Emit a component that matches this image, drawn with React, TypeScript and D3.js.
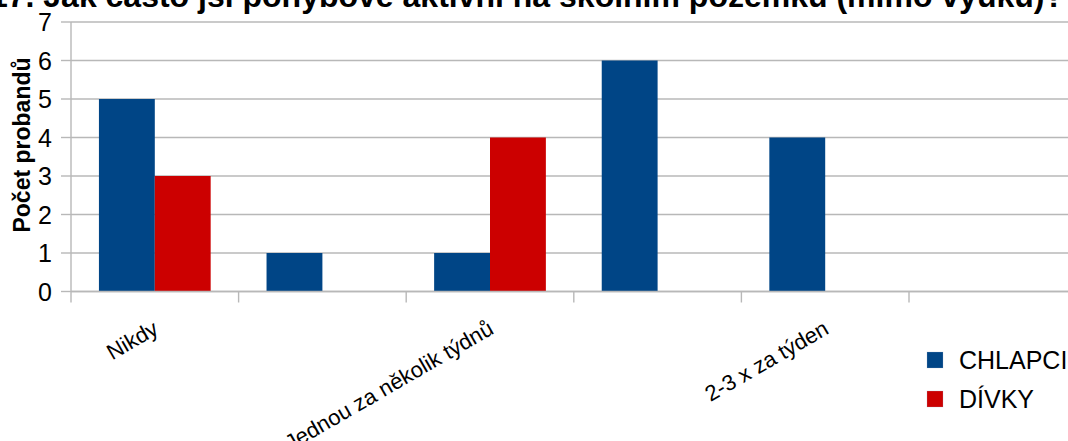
import React from "react";
import * as d3 from "d3";

// Survey answers (how often pupils are active on the school grounds)
const categories = [
  "Nikdy",
  "Jednou za měsíc",
  "Jednou za několik týdnů",
  "Jednou týdně",
  "2-3 x za týden",
  "Denně",
];
const seriesNames = ["CHLAPCI", "DÍVKY"];
const chlapci = [5, 1, 1, 6, 4, 0];
const divky = [3, 0, 4, 0, 0, 0];
const yTicks = [0, 1, 2, 3, 4, 5, 6, 7];
const titleText =
  "17. Jak často jsi pohybově aktivní na školním pozemku (mimo výuku)?";
const yAxisTitle = "Počet probandů";

const colors = ["#004586", "#cc0000"];
const W = 1068;
const H = 441;
const FONT = "'Liberation Sans', Arial, sans-serif";

export default function App() {
  const left = 71;
  const right = 1076.6;
  const top = 22;
  const bottom = 291.5;

  const x = d3.scaleBand<string>().domain(categories).range([left, right]).padding(0);
  const bw = x.bandwidth();
  const inner = d3
    .scaleBand<string>()
    .domain(seriesNames)
    .range([bw / 6, (5 * bw) / 6])
    .padding(0);
  const y = d3.scaleLinear().domain([0, 7]).range([bottom, top]);

  const values = [chlapci, divky];
  const gridColor = "#b8b8b8";

  return (
    <svg
      width={W}
      height={H}
      viewBox={`0 0 ${W} ${H}`}
      style={{ position: "absolute", left: 0, top: 0, background: "#fff" }}
      fontFamily={FONT}
    >
      <rect x={0} y={0} width={W} height={H} fill="#fff" />
      {/* title */}
      <text x={1064} y={7} textAnchor="end" fontSize={32} fontWeight="bold" fill="#000">
        {titleText}
      </text>

      {/* horizontal gridlines and y ticks */}
      {yTicks.map((t) => (
        <g key={t}>
          <line x1={left} x2={right} y1={y(t)} y2={y(t)} stroke={gridColor} strokeWidth={1.4} />
          <line x1={left - 10} x2={left} y1={y(t)} y2={y(t)} stroke={gridColor} strokeWidth={1.4} />
          <text x={52} y={y(t) + 9} textAnchor="end" fontSize={25} fill="#000">
            {t}
          </text>
        </g>
      ))}

      {/* bars */}
      {seriesNames.map((s, si) =>
        categories.map((c, ci) => {
          const v = values[si][ci];
          if (!v) return null;
          return (
            <rect
              key={s + c}
              x={(x(c) as number) + (inner(s) as number)}
              width={inner.bandwidth()}
              y={y(v)}
              height={y(0) - y(v)}
              fill={colors[si]}
            />
          );
        })
      )}

      {/* axes */}
      <line x1={left} x2={left} y1={top} y2={bottom + 11} stroke={gridColor} strokeWidth={1.4} />
      <line x1={left} x2={right} y1={bottom} y2={bottom} stroke={gridColor} strokeWidth={1.4} />
      {categories.map((c) => (
        <line
          key={c}
          x1={(x(c) as number) + bw}
          x2={(x(c) as number) + bw}
          y1={bottom}
          y2={bottom + 11}
          stroke={gridColor}
          strokeWidth={1.4}
        />
      ))}

      {/* category labels (every second one fits) */}
      {categories.map((c, i) => {
        if (i % 2 !== 0) return null;
        const cx = (x(c) as number) + bw / 2 + 5;
        const cy = 333;
        return (
          <text
            key={c}
            x={cx}
            y={cy}
            textAnchor="end"
            fontSize={22}
            fill="#000"
            transform={`rotate(-30 ${cx} ${cy})`}
          >
            {c}
          </text>
        );
      })}

      {/* y axis title */}
      <text
        x={30}
        y={145}
        textAnchor="middle"
        fontSize={23}
        fontWeight="bold"
        fill="#000"
        transform={`rotate(-90 30 145)`}
      >
        {yAxisTitle}
      </text>

      {/* legend */}
      {seriesNames.map((s, i) => (
        <g key={s}>
          <rect
            x={927}
            y={352 + i * 39}
            width={16}
            height={16}
            fill={colors[i]}
            stroke="#9fb3c8"
            strokeOpacity={0.4}
            strokeWidth={0.6}
          />
          <text x={959} y={369 + i * 38.5} fontSize={25} fill="#000">
            {s}
          </text>
        </g>
      ))}
    </svg>
  );
}
